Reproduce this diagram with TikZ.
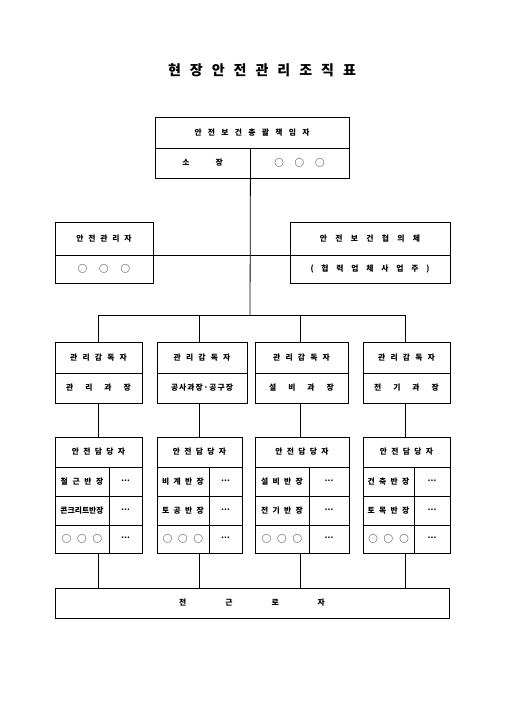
\documentclass[tikz,border=0pt]{standalone}
\usepackage{fontspec}
\setmainfont{Noto Sans CJK KR}
\makeatletter
\newcommand\spaced[2]{\begingroup\def\sp@sep{}\@tfor\sp@c:=#2\do{\sp@sep\sp@c\def\sp@sep{\hspace{#1}}}\endgroup}
\makeatother
\tikzset{
  cellbox/.style={draw, line width=0.8pt, inner sep=0pt, font=\fontsize{7.8}{9}\selectfont\bfseries, anchor=center},
  conn/.style={line width=0.8pt},
}
\newcommand\cell[6]{\node[cellbox, minimum width={(#4-#2)*1pt}, minimum height={(#5-#3)*1pt}] (#1) at ({(#2+#4)/2},{(#3+#5)/2}) {#6};}
\newcommand\mydots{\raisebox{2pt}{\textbf{…}}}
\newcommand\circs[1]{{\fontsize{9.5}{10}\selectfont\mdseries\spaced{#1}{○○○}}}
\begin{document}
\begin{tikzpicture}[x=1pt,y=-1pt]
\useasboundingbox (0,0) rectangle (504,713);
% title
\node[font=\fontsize{14}{16}\selectfont\bfseries] (title) at (262,70) {\spaced{9pt}{현장안전관리조직표}};
% top box
\cell{tophead}{155}{117}{349}{148}{\spaced{6.3pt}{안전보건총괄책임자}}
\cell{topl}{155}{148}{250}{178}{\spaced{26pt}{소장}}
\cell{topr}{250}{148}{349}{178}{\circs{11pt}}
% left and right boxes
\cell{lhead}{55}{222}{153}{255}{\spaced{4.8pt}{안전관리자}}
\cell{lbody}{55}{255}{153}{283}{\circs{12pt}}
\cell{rhead}{290}{222}{450}{255}{\spaced{8.3pt}{안전보건협의체}}
\cell{rbody}{290}{255}{450}{283}{\spaced{7.8pt}{(협력업체사업주)}}
% managers row
\cell{m1h}{55}{342}{142}{373}{\spaced{5.2pt}{관리감독자}}
\cell{m1b}{55}{373}{142}{403}{\spaced{12pt}{관리과장}}
\cell{m2h}{157}{342}{247}{373}{\spaced{5.2pt}{관리감독자}}
\cell{m2b}{157}{373}{247}{403}{\spaced{1pt}{공사과장·공구장}}
\cell{m3h}{255}{342}{348}{373}{\spaced{5.2pt}{관리감독자}}
\cell{m3b}{255}{373}{348}{403}{\spaced{12pt}{설비과장}}
\cell{m4h}{363}{342}{450}{373}{\spaced{5.2pt}{관리감독자}}
\cell{m4b}{363}{373}{450}{403}{\spaced{12pt}{전기과장}}
% safety officers
\cell{d1h}{55}{437}{142}{467}{\spaced{4.3pt}{안전담당자}}
\cell{d1a}{55}{467}{109}{496}{\spaced{4.6pt}{철근반장}}
\cell{d1ax}{109}{467}{142}{496}{\mydots}
\cell{d1b}{55}{496}{109}{525}{\spaced{0pt}{콘크리트반장}}
\cell{d1bx}{109}{496}{142}{525}{\mydots}
\cell{d1c}{55}{525}{109}{553}{\circs{6pt}}
\cell{d1cx}{109}{525}{142}{553}{\mydots}
\cell{d2h}{157}{437}{242}{467}{\spaced{4.3pt}{안전담당자}}
\cell{d2a}{157}{467}{209}{496}{\spaced{4.3pt}{비계반장}}
\cell{d2ax}{209}{467}{242}{496}{\mydots}
\cell{d2b}{157}{496}{209}{525}{\spaced{4.3pt}{토공반장}}
\cell{d2bx}{209}{496}{242}{525}{\mydots}
\cell{d2c}{157}{525}{209}{553}{\circs{6pt}}
\cell{d2cx}{209}{525}{242}{553}{\mydots}
\cell{d3h}{255}{437}{349}{467}{\spaced{4.3pt}{안전담당자}}
\cell{d3a}{255}{467}{309}{496}{\spaced{4.3pt}{설비반장}}
\cell{d3ax}{309}{467}{349}{496}{\mydots}
\cell{d3b}{255}{496}{309}{525}{\spaced{4.3pt}{전기반장}}
\cell{d3bx}{309}{496}{349}{525}{\mydots}
\cell{d3c}{255}{525}{309}{553}{\circs{6pt}}
\cell{d3cx}{309}{525}{349}{553}{\mydots}
\cell{d4h}{363}{437}{450}{467}{\spaced{4.3pt}{안전담당자}}
\cell{d4a}{363}{467}{414}{496}{\spaced{4.3pt}{건축반장}}
\cell{d4ax}{414}{467}{450}{496}{\mydots}
\cell{d4b}{363}{496}{414}{525}{\spaced{4.3pt}{토목반장}}
\cell{d4bx}{414}{496}{450}{525}{\mydots}
\cell{d4c}{363}{525}{414}{553}{\circs{6pt}}
\cell{d4cx}{414}{525}{450}{553}{\mydots}
% all workers
\cell{all}{55}{588}{449}{618}{\spaced{39pt}{전근로자}}
% connectors
\coordinate (bus) at (250,315);
\coordinate (b1) at (98,315);
\coordinate (b2) at (199,315);
\coordinate (b3) at (300,315);
\coordinate (b4) at (405,315);
\draw[conn] (topl.south east) -- (bus);
\draw[conn] (lhead.south east) -- (rhead.south west);
\draw[conn] (b1) -- (b4);
\foreach \i in {1,2,3,4}{
  \draw[conn] (b\i) -- (b\i |- m\i h.north);
  \draw[conn] (m\i b.south -| b\i) -- (d\i h.north -| b\i);
  \draw[conn] (d\i c.south -| b\i) -- (all.north -| b\i);
}
\end{tikzpicture}
\end{document}
